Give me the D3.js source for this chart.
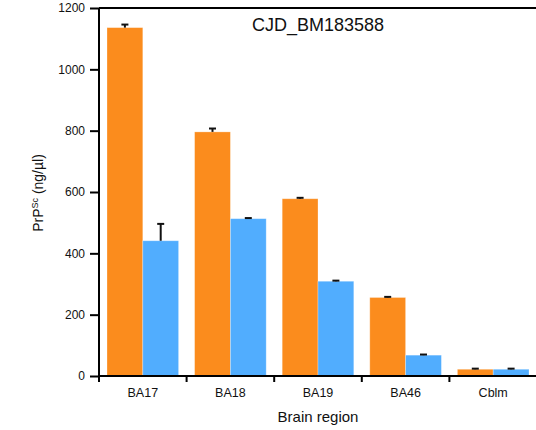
<!DOCTYPE html>
<html>
<head>
<meta charset="utf-8">
<script src="https://cdn.jsdelivr.net/npm/d3@7"></script>
<style>
  body { margin: 0; background: #fff; }
  text { font-family: "Liberation Sans", Arial, sans-serif; fill: #111; }
</style>
</head>
<body>
<div id="chart"></div>
<script>
//Data
const regions = ["BA17", "BA18", "BA19", "BA46", "Cblm"];
const orangeValues = [1136, 796, 578, 256, 22];
const orangeErrors = [10, 11, 3, 2, 2];
const blueValues = [441, 513, 309, 68, 22];
const blueErrors = [55, 2, 2, 2, 2];
const yTicks = [0, 200, 400, 600, 800, 1000, 1200];

const width = 536;
const height = 430;
const margin = { left: 99, right: -1, top: 8, bottom: 54 };

const svg = d3.select("#chart").append("svg")
  .attr("width", width)
  .attr("height", height);

//Scales
const xscale = d3.scaleBand().domain(regions)
  .range([margin.left, width - margin.right]);
const xinner = d3.scaleBand().domain(["orange", "blue"])
  .range([8, xscale.bandwidth() - 8]);
const yscale = d3.scaleLinear().domain([0, 1200])
  .range([height - margin.bottom, margin.top]);

const colors = { orange: "#fb8c1d", blue: "#51adfe" };

//Rows for bars
const rows = [];
regions.forEach((r, i) => {
  rows.push({ region: r, key: "orange", value: orangeValues[i], err: orangeErrors[i] });
  rows.push({ region: r, key: "blue", value: blueValues[i], err: blueErrors[i] });
});

//Bars
svg.append("g").selectAll("rect").data(rows).join("rect")
  .attr("x", d => xscale(d.region) + xinner(d.key))
  .attr("y", d => yscale(d.value))
  .attr("width", xinner.bandwidth())
  .attr("height", d => yscale(0) - yscale(d.value))
  .attr("fill", d => colors[d.key])
  .attr("stroke", "#fff")
  .attr("stroke-opacity", 0.35)
  .attr("stroke-width", 0.8);

//Error bars (upper only)
const err = svg.append("g").selectAll("g").data(rows).join("g")
  .attr("transform", d => `translate(${xscale(d.region) + xinner(d.key) + xinner.bandwidth() / 2},0)`);
err.append("line")
  .attr("y1", d => yscale(d.value))
  .attr("y2", d => yscale(d.value + d.err))
  .attr("stroke", "#111").attr("stroke-width", 2);
err.append("line")
  .attr("x1", -3.5).attr("x2", 3.5)
  .attr("y1", d => yscale(d.value + d.err))
  .attr("y2", d => yscale(d.value + d.err))
  .attr("stroke", "#111").attr("stroke-width", 2);

//Y axis
const yaxis = d3.axisLeft(yscale).tickValues(yTicks).tickFormat(d3.format("d"))
  .tickSize(9).tickPadding(5);
const gy = svg.append("g")
  .attr("transform", `translate(${margin.left},0)`)
  .call(yaxis);
gy.select(".domain").attr("stroke-width", 2).attr("d", `M0,${yscale(0) + 6}V${margin.top}`);
gy.selectAll(".tick line").attr("stroke-width", 2);
gy.selectAll(".tick text").style("font-size", "12px").attr("fill", "#111");

//X axis (ticks at band edges)
const gx = svg.append("g")
  .attr("transform", `translate(0,${yscale(0)})`);
gx.append("line")
  .attr("x1", margin.left).attr("x2", width)
  .attr("stroke", "#000").attr("stroke-width", 2);
gx.selectAll(".edge").data(regions.slice(1)).join("line")
  .attr("class", "edge")
  .attr("x1", d => xscale(d)).attr("x2", d => xscale(d))
  .attr("y1", 0).attr("y2", 6)
  .attr("stroke", "#000").attr("stroke-width", 2);
gx.selectAll(".lbl").data(regions).join("text")
  .attr("class", "lbl")
  .attr("x", d => xscale(d) + xscale.bandwidth() / 2)
  .attr("y", 21)
  .attr("text-anchor", "middle")
  .style("font-size", "12.5px")
  .text(d => d);

//Top frame
svg.append("line")
  .attr("x1", margin.left).attr("x2", width)
  .attr("y1", margin.top).attr("y2", margin.top)
  .attr("stroke", "#000").attr("stroke-width", 2);

//Title
svg.append("text")
  .attr("x", 318).attr("y", 31)
  .attr("text-anchor", "middle")
  .style("font-size", "18px")
  .text("CJD_BM183588");

//Axis labels
svg.append("text")
  .attr("x", 318)
  .attr("y", 422)
  .attr("text-anchor", "middle")
  .style("font-size", "15px")
  .text("Brain region");

const ylab = svg.append("text")
  .attr("transform", `translate(43,193) rotate(-90)`)
  .attr("text-anchor", "middle")
  .style("font-size", "14px");
ylab.append("tspan").text("PrP");
ylab.append("tspan").attr("dy", -5).style("font-size", "9px").text("Sc");
ylab.append("tspan").attr("dy", 5).text(" (ng/µl)");
</script>
</body>
</html>
